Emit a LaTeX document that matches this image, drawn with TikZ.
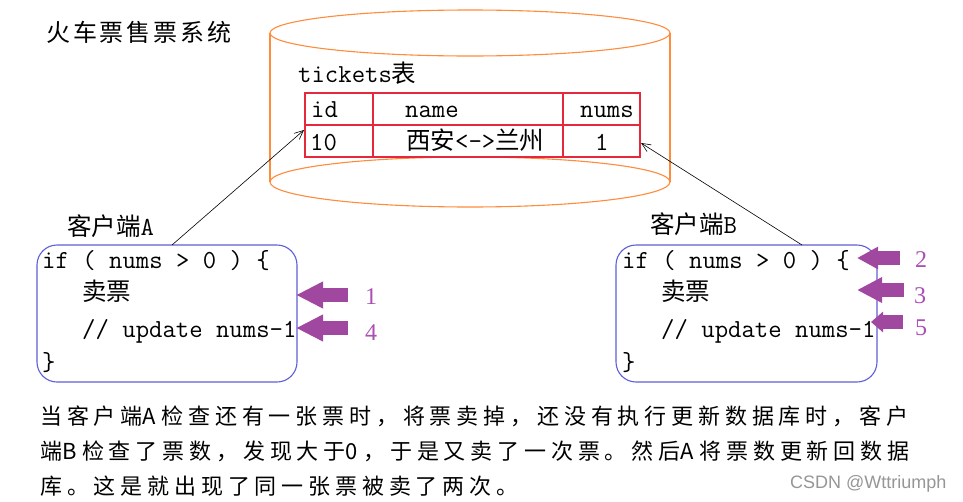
\documentclass[tikz,border=0pt]{standalone}
\usepackage{fontspec}
\usetikzlibrary{arrows.meta}
\newfontfamily\cjkfont{Noto Sans CJK SC}
\newfontfamily\cjkspaced{Noto Sans CJK SC}[LetterSpace=22]
\newfontfamily\numfont{Liberation Serif}
\newfontfamily\wmfont{Liberation Sans}
\definecolor{cylorange}{RGB}{255,140,60}
\definecolor{tblred}{RGB}{230,40,60}
\definecolor{boxblue}{RGB}{95,95,215}
\definecolor{purp}{RGB}{160,72,160}
\definecolor{numpurp}{RGB}{170,80,180}
\definecolor{wmgray}{RGB}{150,150,150}
\newcommand\codefont{\ttfamily\fontsize{26}{30}\selectfont}
\newcommand\hzfont{\cjkfont\fontsize{24.5}{30}\selectfont}
\newcommand\lat[1]{{\cjkfont\fontsize{22}{26}\selectfont #1}\kern5.5pt}
\begin{document}
\begin{tikzpicture}[x=1pt,y=-1pt,
  txt/.style={inner sep=0pt, anchor=base west},
  cyl/.style={draw=cylorange, line width=1.1pt},
  tbl/.style={draw=tblred, line width=1.1pt},
  clientbox/.style={draw=boxblue, line width=1.1pt, rounded corners=20pt, minimum height=137pt, inner sep=0pt},
  link/.style={draw=black, line width=0.6pt, -{Straight Barb[length=9pt,width=8pt]}},
  fat/.style={draw=purp, line width=14pt},
  num/.style={inner sep=0pt, text=numpurp, font=\numfont\fontsize{24}{28}\selectfont},
  bodytxt/.style={inner sep=0pt, anchor=base west, font=\cjkspaced\fontsize{22}{26}\selectfont}
]
\useasboundingbox (0,0) rectangle (963,501);
\fill[white] (0,0) rectangle (963,501);

% title
\node[txt, font=\cjkfont\addfontfeatures{LetterSpace=12}\fontsize{24}{28}\selectfont] (title) at (46,41) {火车票售票系统};

% database cylinder
\draw[cyl] (470,33) ellipse [x radius=200pt, y radius=23pt];
\draw[cyl] (470,182) ellipse [x radius=200pt, y radius=25pt];
\draw[cyl] (270,33) -- (270,182);
\draw[cyl] (670,33) -- (670,182);

\node[txt] (tname) at (298,82) {\codefont tickets{\hzfont 表}};

% table
\coordinate (tNW) at (305,93);
\coordinate (tSE) at (640,157);
\draw[tbl] (tNW) rectangle (tSE);
\draw[tbl] (305,125) -- (640,125);
\draw[tbl] (373,93) -- (373,157);
\draw[tbl] (563,93) -- (563,157);
\node[txt] (hid) at (311,117) {\codefont id};
\node[txt] (hname) at (405,117) {\codefont name};
\node[txt] (hnums) at (580,117) {\codefont nums};
\node[txt] (vid) at (310,150) {\codefont 10};
\node[txt] (vname) at (406,149) {{\hzfont 西安}\codefont <->{\hzfont 兰州}};
\node[txt] (vnums) at (595,150) {\codefont 1};
\coordinate (tipA) at (304,130);
\coordinate (tipB) at (641,143);

% client A
\node[clientbox, minimum width=260pt] (boxA) at (167,313.5) {};
\node[txt] (labA) at (67,235) {{\hzfont 客户端}\codefont A};
\node[txt] (a1) at (42,268) {\codefont if ( nums > 0 ) \{};
\node[txt] (a2) at (82,300) {\hzfont 卖票};
\node[txt] (a3) at (82,337) {\codefont // update nums-1};
\node[txt] (a4) at (42,370) {\codefont \}};
\coordinate (fromA) at (172,245);
\draw[link] (fromA) -- (tipA);

% client B
\node[clientbox, minimum width=261pt] (boxB) at (746.5,313.5) {};
\node[txt] (labB) at (650,233) {{\hzfont 客户端}\codefont B};
\node[txt] (b1) at (622,268) {\codefont if ( nums > 0 ) \{};
\node[txt] (b2) at (661,300) {\hzfont 卖票};
\node[txt] (b3) at (661,337) {\codefont // update nums-1};
\node[txt] (b4) at (622,370) {\codefont \}};
\coordinate (fromB) at (802,245);
\draw[link] (fromB) -- (tipB);

% purple step arrows
\coordinate (s1) at (348,295); \coordinate (e1) at (296,295);
\coordinate (s4) at (348,328); \coordinate (e4) at (296,328);
\coordinate (s2) at (900,258); \coordinate (e2) at (857,258);
\coordinate (s3) at (904,290); \coordinate (e3) at (857,290);
\coordinate (s5) at (903,322); \coordinate (e5) at (871,322);
\draw[fat, -{Triangle[length=27pt,width=25pt]}] (s1) -- (e1);
\draw[fat, -{Triangle[length=27pt,width=25pt]}] (s4) -- (e4);
\draw[fat, -{Triangle[length=21pt,width=21pt]}] (s2) -- (e2);
\draw[fat, -{Triangle[length=25pt,width=24pt]}] (s3) -- (e3);
\draw[fat, -{Triangle[length=12pt,width=20pt]}] (s5) -- (e5);
\node[num] (n1) at (371,297) {1};
\node[num] (n4) at (371,333) {4};
\node[num] (n2) at (921,260) {2};
\node[num] (n3) at (920,296) {3};
\node[num] (n5) at (921,328) {5};

% explanation
\node[bodytxt] (l1) at (40,424.5) {当客户端\lat{A}检查还有一张票时，将票卖掉，还没有执行更新数据库时，客户};
\node[bodytxt] (l2) at (40,459.5) {端\lat{B}检查了票数，发现大于\lat{0}，于是又卖了一次票。然后\lat{A}将票数更新回数据};
\node[bodytxt] (l3) at (40,494.5) {库。这是就出现了同一张票被卖了两次。};

\node[inner sep=0pt, anchor=base west, text=wmgray, font=\wmfont\fontsize{18}{22}\selectfont] (wm) at (790,488) {CSDN @Wttriumph};
\end{tikzpicture}
\end{document}
